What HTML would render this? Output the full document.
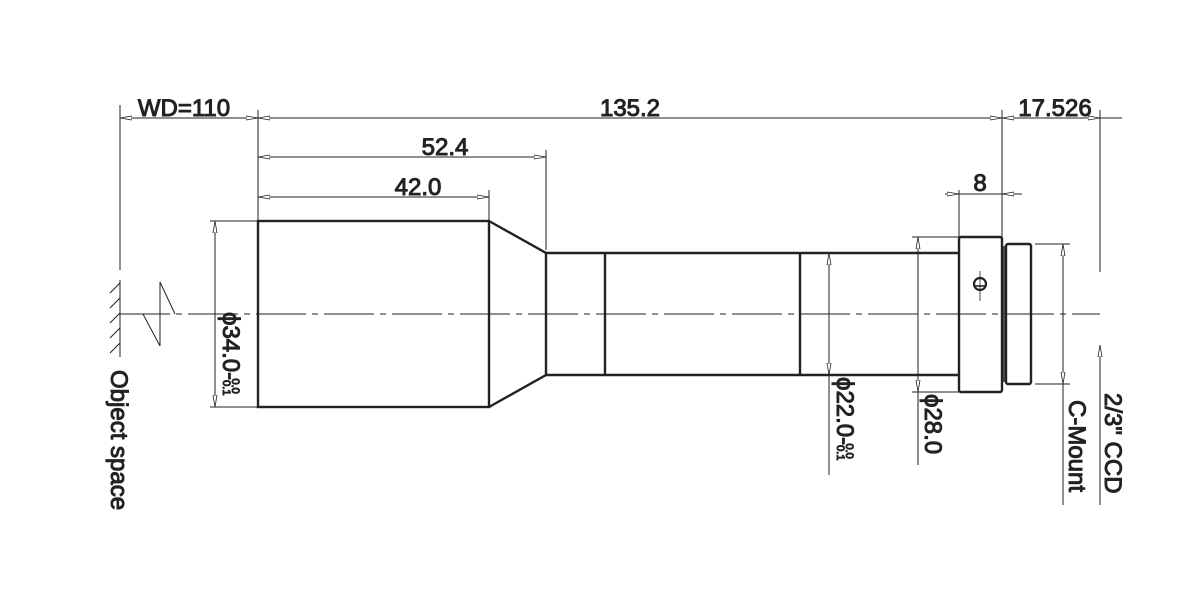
<!DOCTYPE html>
<html><head><meta charset="utf-8"><style>
html,body{margin:0;padding:0;background:#fff;}
svg{display:block;}
text{font-family:"Liberation Sans",sans-serif;fill:#222;}
</style></head><body>
<svg width="1196" height="589" viewBox="0 0 1196 589" xmlns="http://www.w3.org/2000/svg">
<defs>
<marker id="a" viewBox="0 0 12 6" refX="12" refY="3" markerWidth="12" markerHeight="6" orient="auto-start-reverse" markerUnits="userSpaceOnUse">
<path d="M0,1 L12,3 L0,5 Z" fill="#fff" stroke="#222" stroke-width="0.8"/>
</marker>
</defs>
<g stroke="#222" fill="none">
<line x1="120" y1="314" x2="1100" y2="314" stroke-width="1" stroke-dasharray="50,6,6,6"/>
<g stroke-width="2.4">
<rect x="258" y="221" width="231" height="186"/>
<polyline points="489,221 546,253 546,375 489,407"/>
<line x1="546" y1="253" x2="958" y2="253"/>
<line x1="546" y1="375" x2="958" y2="375"/>
<line x1="605" y1="253" x2="605" y2="375"/>
<line x1="800" y1="253" x2="800" y2="375"/>
<rect x="959" y="237" width="43" height="155" rx="2"/>
<rect x="1006" y="244" width="25" height="140" rx="2"/>
<line x1="1004" y1="246" x2="1004" y2="382" stroke-width="1.4"/>
</g>
<circle cx="980" cy="284" r="6" stroke-width="2.2"/>
<line x1="974" y1="286" x2="986" y2="286" stroke-width="1.6"/>
<line x1="980" y1="271" x2="980" y2="301" stroke-width="0.8"/>
<g stroke-width="1">
<line x1="120" y1="105" x2="120" y2="270"/>
<line x1="120" y1="280" x2="120" y2="357"/>
<line x1="258" y1="110" x2="258" y2="221"/>
<line x1="546" y1="150" x2="546" y2="250"/>
<line x1="489" y1="190" x2="489" y2="221"/>
<line x1="1002" y1="110" x2="1002" y2="237"/>
<line x1="959" y1="190" x2="959" y2="237"/>
<line x1="1100" y1="110" x2="1100" y2="272"/>
<line x1="1100" y1="345" x2="1100" y2="505"/>
<line x1="1100" y1="345" x2="1100" y2="360" marker-start="url(#a)"/>
<line x1="210" y1="221" x2="258" y2="221"/>
<line x1="210" y1="407" x2="258" y2="407"/>
<line x1="912" y1="237" x2="959" y2="237"/>
<line x1="912" y1="392" x2="959" y2="392"/>
<line x1="1035" y1="244" x2="1070" y2="244"/>
<line x1="1035" y1="384" x2="1070" y2="384"/>
<line x1="918" y1="392" x2="918" y2="465"/>
<line x1="829" y1="375" x2="829" y2="475"/>
<line x1="1063" y1="384" x2="1063" y2="505"/>
<line x1="120" y1="118" x2="258" y2="118" marker-start="url(#a)" marker-end="url(#a)"/>
<line x1="258" y1="118" x2="1002" y2="118" marker-start="url(#a)" marker-end="url(#a)"/>
<line x1="1002" y1="118" x2="1100" y2="118" marker-start="url(#a)" marker-end="url(#a)"/>
<line x1="1100" y1="118" x2="1122" y2="118"/>
<line x1="258" y1="157" x2="546" y2="157" marker-start="url(#a)" marker-end="url(#a)"/>
<line x1="258" y1="197" x2="489" y2="197" marker-start="url(#a)" marker-end="url(#a)"/>
<line x1="945" y1="194" x2="959" y2="194" marker-end="url(#a)"/>
<line x1="1022" y1="194" x2="1002" y2="194" marker-end="url(#a)"/>
<line x1="959" y1="194" x2="1002" y2="194"/>
<line x1="215" y1="221" x2="215" y2="407" marker-start="url(#a)" marker-end="url(#a)"/>
<line x1="829" y1="253" x2="829" y2="375" marker-start="url(#a)" marker-end="url(#a)"/>
<line x1="918" y1="237" x2="918" y2="392" marker-start="url(#a)" marker-end="url(#a)"/>
<line x1="1063" y1="244" x2="1063" y2="384" marker-start="url(#a)" marker-end="url(#a)"/>
<line x1="110" y1="293" x2="120" y2="283"/>
<line x1="110" y1="308" x2="120" y2="298"/>
<line x1="110" y1="323" x2="120" y2="313"/>
<line x1="110" y1="338" x2="120" y2="328"/>
<line x1="110" y1="353" x2="120" y2="343"/>
<polyline points="143,314 160,346 160,282 175,314"/>
</g>
<g font-size="24" text-anchor="middle">
<text x="184" y="116">WD=110</text>
<text x="630" y="116">135.2</text>
<text x="1055" y="116">17.526</text>
<text x="445" y="155">52.4</text>
<text x="418" y="195">42.0</text>
<text x="980" y="191">8</text>
</g>
<g font-size="24">
<text transform="translate(111,370) rotate(90)">Object space</text>
<text transform="translate(223,312) rotate(90)">ϕ34.0-<tspan font-size="11">0.1</tspan><tspan font-size="11" dx="-17" dy="-9">0.0</tspan></text>
<text transform="translate(837,377) rotate(90)">ϕ22.0-<tspan font-size="11">0.1</tspan><tspan font-size="11" dx="-17" dy="-9">0.0</tspan></text>
<text transform="translate(925,394) rotate(90)">ϕ28.0</text>
<text transform="translate(1069,400) rotate(90)">C-Mount</text>
<text transform="translate(1105,393) rotate(90)">2/3" CCD</text>
</g>
</svg>
</body></html>
